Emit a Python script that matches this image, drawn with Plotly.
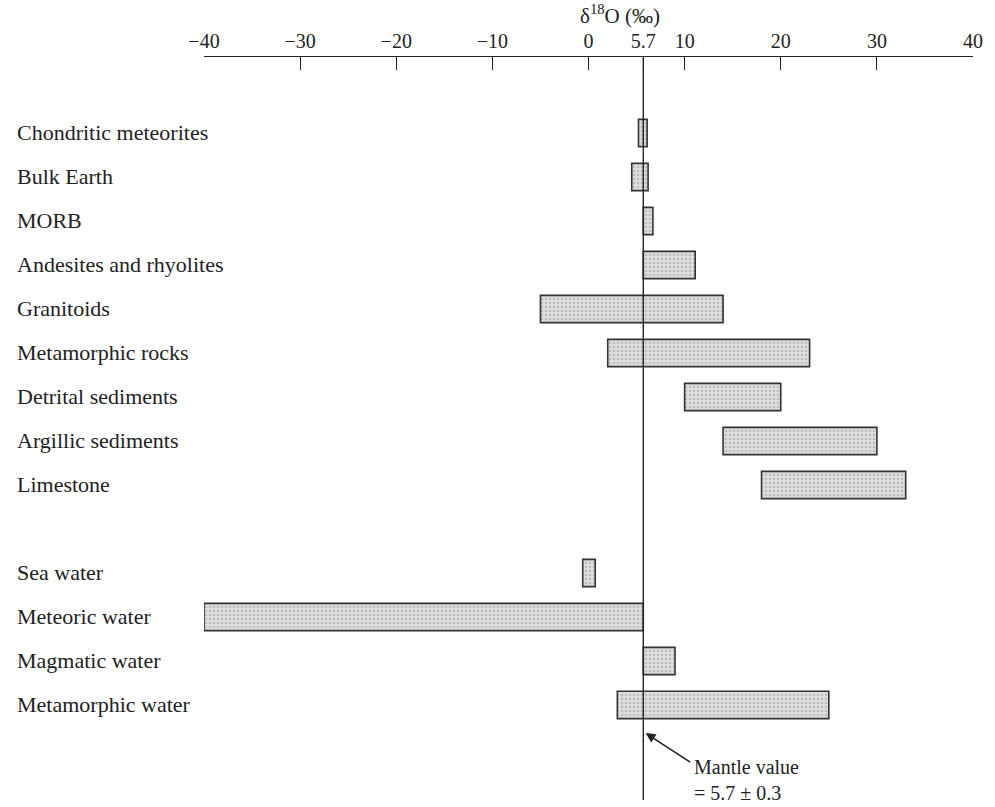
import plotly.graph_objects as go

categories = ["Chondritic meteorites", "Bulk Earth", "MORB", "Andesites and rhyolites",
              "Granitoids", "Metamorphic rocks", "Detrital sediments", "Argillic sediments",
              "Limestone", "Sea water", "Meteoric water", "Magmatic water", "Metamorphic water"]
row_pos = [0, 1, 2, 3, 4, 5, 6, 7, 8, 10, 11, 12, 13]
range_low = [5.2, 4.5, 5.7, 5.7, -5.0, 2.0, 10.0, 14.0, 18.0, -0.6, -40.0, 5.7, 3.0]
range_high = [6.1, 6.2, 6.7, 11.1, 14.0, 23.0, 20.0, 30.0, 33.0, 0.7, 5.7, 9.0, 25.0]
tick_vals = [-40, -30, -20, -10, 0, 5.7, 10, 20, 30, 40]
tick_text = ["\u221240", "\u221230", "\u221220", "\u221210", "0", "5.7", "10", "20", "30", "40"]
mantle_value = 5.7

FONT = "Liberation Serif"
INK = "#222222"

fig = go.Figure()
fig.add_trace(go.Bar(
    y=row_pos,
    x=[h - l for l, h in zip(range_low, range_high)],
    base=range_low,
    orientation="h",
    width=0.62,
    marker=dict(
        color="#d4d4d4",
        line=dict(color="#333333", width=1.6),
        pattern=dict(shape=".", fgcolor="#9a9a9a", bgcolor="#dedede", size=4, solidity=0.35),
    ),
    hoverinfo="skip",
    showlegend=False,
))

# Category labels, left-aligned
for cat, pos in zip(categories, row_pos):
    fig.add_annotation(x=-0.2458, xref="paper", y=pos, yref="y", text=cat,
                       showarrow=False, xanchor="left", yanchor="middle",
                       font=dict(family=FONT, size=22, color=INK))

# Mantle value line
fig.add_shape(type="line", x0=mantle_value, x1=mantle_value, xref="x",
              y0=0, y1=1, yref="paper", line=dict(color=INK, width=1.4))

# Axis title
fig.add_annotation(x=3.3, xref="x", y=1, yref="paper", yshift=43,
                   text="\u03b4<sup>18</sup>O (\u2030)", showarrow=False,
                   xanchor="center", yanchor="middle",
                   font=dict(family=FONT, size=21, color=INK))

# Arrow to mantle value
fig.add_annotation(x=5.95, xref="x", y=13.64, yref="y", text="",
                   showarrow=True, arrowhead=2, arrowsize=1.3, arrowwidth=1.5,
                   arrowcolor=INK, ax=46, ay=30)
fig.add_annotation(x=10.8, xref="x", y=14.12, yref="y",
                   text="Mantle value<br>= 5.7 \u00b1 0.3", showarrow=False,
                   xanchor="left", yanchor="top", align="left",
                   font=dict(family=FONT, size=20, color=INK))

fig.update_layout(
    width=995, height=807,
    margin=dict(l=204, r=22, t=57, b=7),
    paper_bgcolor="white", plot_bgcolor="white",
    font=dict(family=FONT, color=INK),
    xaxis=dict(
        side="top", range=[-40, 40], tickvals=tick_vals, ticktext=tick_text,
        ticks="inside", ticklen=13, tickwidth=1.4, tickcolor=INK,
        showline=True, linecolor=INK, linewidth=1.4, showgrid=False, zeroline=False,
        tickfont=dict(family=FONT, size=20, color=INK),
    ),
    yaxis=dict(range=[15.16, -1.727], visible=False, showgrid=False, zeroline=False),
)

fig.write_html("out.html", config={"displayModeBar": False},
               post_script="document.body.style.margin='0';document.body.style.overflow='hidden';")
